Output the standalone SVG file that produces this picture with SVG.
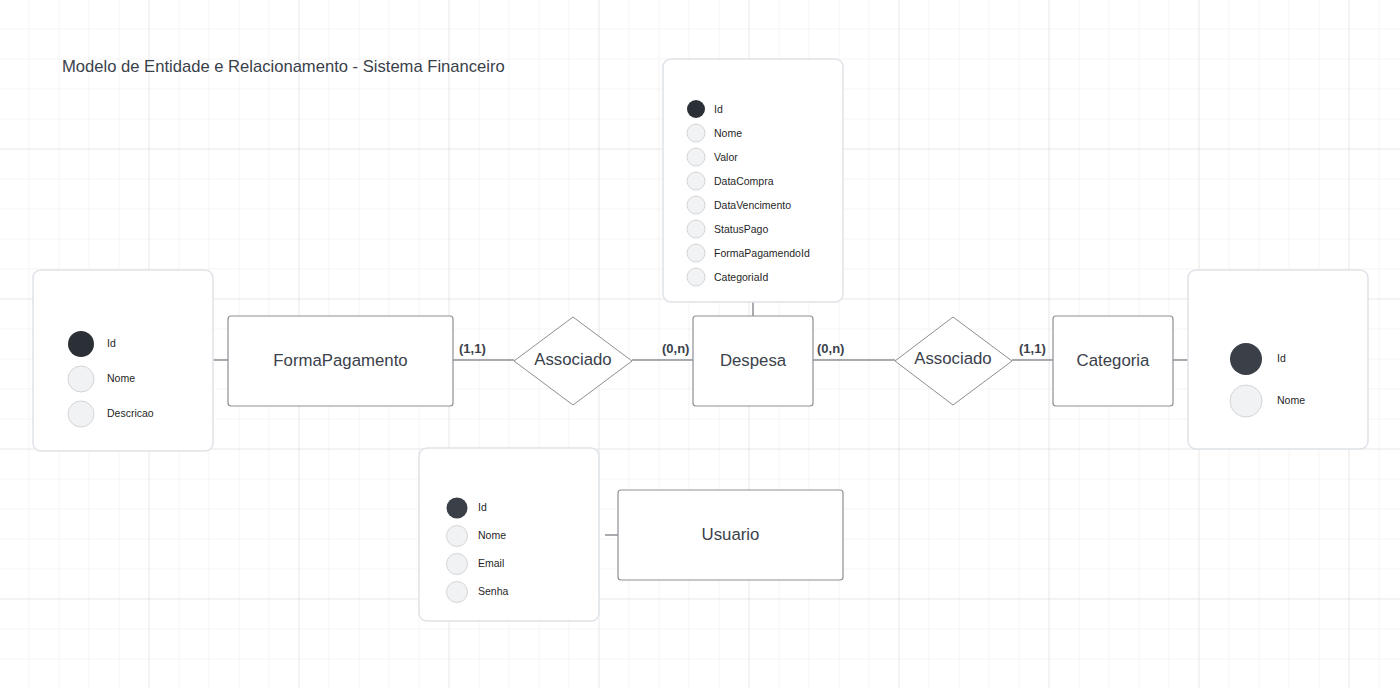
<svg xmlns="http://www.w3.org/2000/svg" width="1400" height="688" viewBox="0 0 1400 688">
<defs>
<pattern id="minor" width="30" height="30" patternUnits="userSpaceOnUse" x="-0.5" y="-0.5">
<path d="M30 0V30M0 30H30" fill="none" stroke="#ebebeb" stroke-width="1"/>
</pattern>
<pattern id="major" width="150" height="150" patternUnits="userSpaceOnUse" x="-0.5" y="-0.5">
<path d="M150 0V150M0 150H150" fill="none" stroke="#dcdcdc" stroke-width="1"/>
</pattern>
</defs>
<style>
text{font-family:"Liberation Sans",Arial,sans-serif}
.card{fill:#fff;stroke:#dfe3e8;stroke-width:1.5}
.ent{fill:#fff;stroke:#8c8f94;stroke-width:1.2}
.rel{fill:#fff;stroke:#8c8f94;stroke-width:1}
.name{font-size:16.8px;fill:#3a414a;text-anchor:middle;dominant-baseline:central}
.attr{font-size:10.5px;fill:#1f1f1f;dominant-baseline:central}
.pk{fill:#2b2f36}
.pk2{fill:#3a3f48}
.fk{fill:#f1f2f4;stroke:#d3d5d9;stroke-width:1}
.card-lbl{font-size:13px;font-weight:bold;fill:#3a414a}
.conn line{stroke:#8c8f94;stroke-width:1.5}
</style>
<rect width="1400" height="688" fill="#fff"/>
<rect width="1400" height="688" fill="url(#minor)"/>
<rect width="1400" height="688" fill="url(#major)"/>
<text x="62" y="72" font-size="16.6" fill="#3a414a">Modelo de Entidade e Relacionamento - Sistema Financeiro</text>
<g class="conn" id="connectors">
<line x1="213" y1="360" x2="228" y2="360"/>
<line x1="453" y1="360" x2="514" y2="360"/>
<line x1="632" y1="360" x2="693" y2="360"/>
<line x1="813" y1="360" x2="895" y2="360"/>
<line x1="1012" y1="360" x2="1053" y2="360"/>
<line x1="1173" y1="360" x2="1188" y2="360"/>
<line x1="753" y1="302" x2="753" y2="316"/>
<line x1="605" y1="535" x2="618" y2="535"/>
<text class="card-lbl" x="459" y="353">(1,1)</text>
<text class="card-lbl" x="662" y="353">(0,n)</text>
<text class="card-lbl" x="817" y="353">(0,n)</text>
<text class="card-lbl" x="1019" y="353">(1,1)</text>
</g>
<g id="despesa-attrs">
<rect class="card" x="663" y="59" width="180" height="243" rx="8"/>
<circle class="pk" cx="696" cy="109" r="9"/>
<circle class="fk" cx="696" cy="133" r="9"/>
<circle class="fk" cx="696" cy="157" r="9"/>
<circle class="fk" cx="696" cy="181" r="9"/>
<circle class="fk" cx="696" cy="205" r="9"/>
<circle class="fk" cx="696" cy="229" r="9"/>
<circle class="fk" cx="696" cy="253" r="9"/>
<circle class="fk" cx="696" cy="277" r="9"/>
<text class="attr" x="714" y="109">Id</text>
<text class="attr" x="714" y="133">Nome</text>
<text class="attr" x="714" y="157">Valor</text>
<text class="attr" x="714" y="181">DataCompra</text>
<text class="attr" x="714" y="205">DataVencimento</text>
<text class="attr" x="714" y="229">StatusPago</text>
<text class="attr" x="714" y="253">FormaPagamendoId</text>
<text class="attr" x="714" y="277">CategoriaId</text>
</g>
<g id="formapagamento-attrs">
<rect class="card" x="33" y="270" width="180" height="181" rx="8"/>
<circle class="pk" cx="81" cy="344" r="13"/>
<circle class="fk" cx="81" cy="379" r="13"/>
<circle class="fk" cx="81" cy="414" r="13"/>
<text class="attr" x="107" y="343">Id</text>
<text class="attr" x="107" y="378">Nome</text>
<text class="attr" x="107" y="413">Descricao</text>
</g>
<g id="categoria-attrs">
<rect class="card" x="1188" y="270" width="180" height="179" rx="8"/>
<circle class="pk2" cx="1246" cy="359" r="16"/>
<circle class="fk" cx="1246" cy="401" r="16"/>
<text class="attr" x="1277" y="358">Id</text>
<text class="attr" x="1277" y="400">Nome</text>
</g>
<g id="usuario-attrs">
<rect class="card" x="419" y="448" width="180" height="173" rx="8"/>
<circle class="pk2" cx="457" cy="508" r="10.5"/>
<circle class="fk" cx="457" cy="536" r="10.5"/>
<circle class="fk" cx="457" cy="564" r="10.5"/>
<circle class="fk" cx="457" cy="592" r="10.5"/>
<text class="attr" x="478" y="507">Id</text>
<text class="attr" x="478" y="535">Nome</text>
<text class="attr" x="478" y="563">Email</text>
<text class="attr" x="478" y="591">Senha</text>
</g>
<g id="formapagamento">
<rect class="ent" x="228" y="316" width="225" height="90" rx="3"/>
<text class="name" x="340.5" y="360">FormaPagamento</text>
</g>
<g id="associado1">
<polygon class="rel" points="573,317 632,361 573,405 514,361" stroke-linejoin="round"/>
<text class="name" x="573" y="359">Associado</text>
</g>
<g id="despesa">
<rect class="ent" x="693" y="316" width="120" height="90" rx="3"/>
<text class="name" x="753" y="360">Despesa</text>
</g>
<g id="associado2">
<polygon class="rel" points="953,317 1012,361 953,405 895,361" stroke-linejoin="round"/>
<text class="name" x="953" y="358">Associado</text>
</g>
<g id="categoria">
<rect class="ent" x="1053" y="316" width="120" height="90" rx="3"/>
<text class="name" x="1113" y="360">Categoria</text>
</g>
<g id="usuario">
<rect class="ent" x="618" y="490" width="225" height="90" rx="3"/>
<text class="name" x="730.5" y="534">Usuario</text>
</g>
</svg>
